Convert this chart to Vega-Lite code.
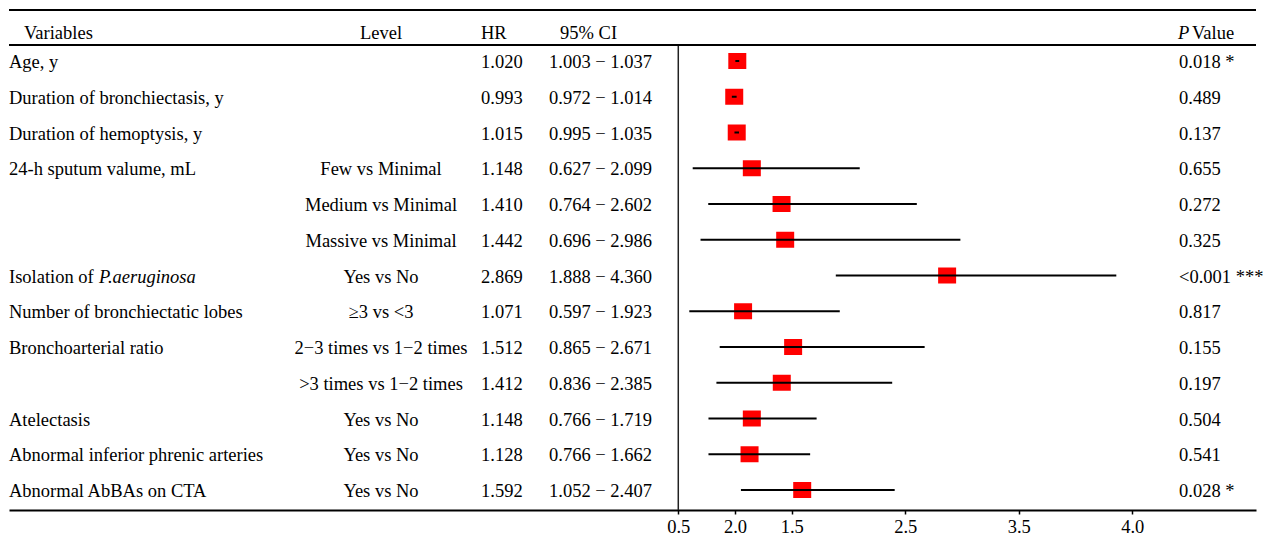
{
  "$schema": "https://vega.github.io/schema/vega-lite/v6.json",
  "width": 1247,
  "height": 510,
  "padding": {"left": 8, "right": 8, "top": 0, "bottom": 0},
  "autosize": {"type": "pad"},
  "background": "white",
  "config": {
    "view": {"stroke": null},
    "text": {"font": "Liberation Serif", "fontSize": 18.5, "color": "black", "dy": 1}
  },
  "datasets": {
    "rows": [
      {"row": 1, "variable": "Age, y", "varIt": "", "level": "", "hr": 1.020, "lo": 1.003, "hi": 1.037, "p": "0.018 *"},
      {"row": 2, "variable": "Duration of bronchiectasis, y", "varIt": "", "level": "", "hr": 0.993, "lo": 0.972, "hi": 1.014, "p": "0.489"},
      {"row": 3, "variable": "Duration of hemoptysis, y", "varIt": "", "level": "", "hr": 1.015, "lo": 0.995, "hi": 1.035, "p": "0.137"},
      {"row": 4, "variable": "24-h sputum valume, mL", "varIt": "", "level": "Few vs Minimal", "hr": 1.148, "lo": 0.627, "hi": 2.099, "p": "0.655"},
      {"row": 5, "variable": "", "varIt": "", "level": "Medium vs Minimal", "hr": 1.410, "lo": 0.764, "hi": 2.602, "p": "0.272"},
      {"row": 6, "variable": "", "varIt": "", "level": "Massive vs Minimal", "hr": 1.442, "lo": 0.696, "hi": 2.986, "p": "0.325"},
      {"row": 7, "variable": "Isolation of", "varIt": "P.aeruginosa", "level": "Yes vs No", "hr": 2.869, "lo": 1.888, "hi": 4.360, "p": "<0.001 ***"},
      {"row": 8, "variable": "Number of bronchiectatic lobes", "varIt": "", "level": "≥3 vs <3", "hr": 1.071, "lo": 0.597, "hi": 1.923, "p": "0.817"},
      {"row": 9, "variable": "Bronchoarterial ratio", "varIt": "", "level": "2−3 times vs 1−2 times", "hr": 1.512, "lo": 0.865, "hi": 2.671, "p": "0.155"},
      {"row": 10, "variable": "", "varIt": "", "level": ">3 times vs 1−2 times", "hr": 1.412, "lo": 0.836, "hi": 2.385, "p": "0.197"},
      {"row": 11, "variable": "Atelectasis", "varIt": "", "level": "Yes vs No", "hr": 1.148, "lo": 0.766, "hi": 1.719, "p": "0.504"},
      {"row": 12, "variable": "Abnormal inferior phrenic arteries", "varIt": "", "level": "Yes vs No", "hr": 1.128, "lo": 0.766, "hi": 1.662, "p": "0.541"},
      {"row": 13, "variable": "Abnormal AbBAs on CTA", "varIt": "", "level": "Yes vs No", "hr": 1.592, "lo": 1.052, "hi": 2.407, "p": "0.028 *"}
    ],
    "heads": [
      {"c": 1, "t": "Variables"},
      {"c": 4, "t": "HR"},
      {"c": 6, "t": "95% CI"},
      {"c": 9, "t": "Value"}
    ]
  },
  "layer": [
    {
      "layer": [
        {
          "data": {"name": "rows"},
          "mark": {"type": "text", "align": "left"},
          "encoding": {
            "x": {"datum": 0, "type": "quantitative", "axis": null,
                  "scale": {"domain": [0, 1, 2, 3, 4, 5, 6, 7, 8, 9], "range": [0, 15, 90, 372, 472, 540, 551, 1169, 1170, 1183], "nice": false, "zero": false}},
            "y": {"field": "row", "type": "quantitative", "axis": null, "scale": {"domain": [-0.7063, 13.5594], "reverse": true, "nice": false, "zero": false}},
            "text": {"field": "variable"}
          }
        },
        {
          "data": {"name": "rows"},
          "mark": {"type": "text", "align": "left", "fontStyle": "italic"},
          "encoding": {
            "x": {"datum": 2, "type": "quantitative", "axis": null,
                  "scale": {"domain": [0, 1, 2, 3, 4, 5, 6, 7, 8, 9], "range": [0, 15, 90, 372, 472, 540, 551, 1169, 1170, 1183], "nice": false, "zero": false}},
            "y": {"field": "row", "type": "quantitative", "axis": null, "scale": {"domain": [-0.7063, 13.5594], "reverse": true, "nice": false, "zero": false}},
            "text": {"field": "varIt"}
          }
        },
        {
          "data": {"name": "rows"},
          "mark": {"type": "text", "align": "center"},
          "encoding": {
            "x": {"datum": 3, "type": "quantitative", "axis": null,
                  "scale": {"domain": [0, 1, 2, 3, 4, 5, 6, 7, 8, 9], "range": [0, 15, 90, 372, 472, 540, 551, 1169, 1170, 1183], "nice": false, "zero": false}},
            "y": {"field": "row", "type": "quantitative", "axis": null, "scale": {"domain": [-0.7063, 13.5594], "reverse": true, "nice": false, "zero": false}},
            "text": {"field": "level"}
          }
        },
        {
          "data": {"name": "rows"},
          "mark": {"type": "text", "align": "left"},
          "encoding": {
            "x": {"datum": 4, "type": "quantitative", "axis": null,
                  "scale": {"domain": [0, 1, 2, 3, 4, 5, 6, 7, 8, 9], "range": [0, 15, 90, 372, 472, 540, 551, 1169, 1170, 1183], "nice": false, "zero": false}},
            "y": {"field": "row", "type": "quantitative", "axis": null, "scale": {"domain": [-0.7063, 13.5594], "reverse": true, "nice": false, "zero": false}},
            "text": {"field": "hr", "type": "quantitative", "format": ".3f"}
          }
        },
        {
          "data": {"name": "rows"},
          "transform": [{"calculate": "format(datum.lo, '.3f') + ' − ' + format(datum.hi, '.3f')", "as": "ci"}],
          "mark": {"type": "text", "align": "left"},
          "encoding": {
            "x": {"datum": 5, "type": "quantitative", "axis": null,
                  "scale": {"domain": [0, 1, 2, 3, 4, 5, 6, 7, 8, 9], "range": [0, 15, 90, 372, 472, 540, 551, 1169, 1170, 1183], "nice": false, "zero": false}},
            "y": {"field": "row", "type": "quantitative", "axis": null, "scale": {"domain": [-0.7063, 13.5594], "reverse": true, "nice": false, "zero": false}},
            "text": {"field": "ci"}
          }
        },
        {
          "data": {"name": "rows"},
          "mark": {"type": "text", "align": "left"},
          "encoding": {
            "x": {"datum": 8, "type": "quantitative", "axis": null,
                  "scale": {"domain": [0, 1, 2, 3, 4, 5, 6, 7, 8, 9], "range": [0, 15, 90, 372, 472, 540, 551, 1169, 1170, 1183], "nice": false, "zero": false}},
            "y": {"field": "row", "type": "quantitative", "axis": null, "scale": {"domain": [-0.7063, 13.5594], "reverse": true, "nice": false, "zero": false}},
            "text": {"field": "p"}
          }
        },
        {
          "data": {"name": "heads"},
          "mark": {"type": "text", "align": "left"},
          "encoding": {
            "x": {"field": "c", "type": "quantitative", "axis": null,
                  "scale": {"domain": [0, 1, 2, 3, 4, 5, 6, 7, 8, 9], "range": [0, 15, 90, 372, 472, 540, 551, 1169, 1170, 1183], "nice": false, "zero": false}},
            "y": {"datum": 0.189, "type": "quantitative", "axis": null, "scale": {"domain": [-0.7063, 13.5594], "reverse": true, "nice": false, "zero": false}},
            "text": {"field": "t"}
          }
        },
        {
          "data": {"values": [{"t": "Level"}]},
          "mark": {"type": "text", "align": "center"},
          "encoding": {
            "x": {"datum": 3, "type": "quantitative", "axis": null,
                  "scale": {"domain": [0, 1, 2, 3, 4, 5, 6, 7, 8, 9], "range": [0, 15, 90, 372, 472, 540, 551, 1169, 1170, 1183], "nice": false, "zero": false}},
            "y": {"datum": 0.189, "type": "quantitative", "axis": null, "scale": {"domain": [-0.7063, 13.5594], "reverse": true, "nice": false, "zero": false}},
            "text": {"field": "t"}
          }
        },
        {
          "data": {"values": [{"t": "P"}]},
          "mark": {"type": "text", "align": "left", "fontStyle": "italic"},
          "encoding": {
            "x": {"datum": 7, "type": "quantitative", "axis": null,
                  "scale": {"domain": [0, 1, 2, 3, 4, 5, 6, 7, 8, 9], "range": [0, 15, 90, 372, 472, 540, 551, 1169, 1170, 1183], "nice": false, "zero": false}},
            "y": {"datum": 0.189, "type": "quantitative", "axis": null, "scale": {"domain": [-0.7063, 13.5594], "reverse": true, "nice": false, "zero": false}},
            "text": {"field": "t"}
          }
        }
      ]
    },
    {
      "layer": [
        {
          "data": {"name": "rows"},
          "mark": {"type": "point", "shape": "M-1.125,-1H1.125V1H-1.125Z", "filled": true, "color": "#ff0000", "opacity": 1, "size": 256},
          "encoding": {
            "x": {"field": "hr", "type": "quantitative",
                  "scale": {"domain": [-5.398, 5.591], "nice": false, "zero": false},
                  "axis": {"values": [0.5, 1, 1.5, 2.5, 3.5, 4.5],
                           "labelExpr": "datum.value == 1 ? '2.0' : datum.value == 4.5 ? '4.0' : format(datum.value, '.1f')",
                           "title": null, "grid": false,
                           "domainColor": "black", "domainWidth": 2,
                           "tickColor": "black", "tickSize": 4, "tickWidth": 1.5,
                           "labelFont": "Liberation Serif", "labelFontSize": 18.5, "labelColor": "black",
                           "labelPadding": 3, "labelFlush": false, "labelOverlap": false}},
            "y": {"field": "row", "type": "quantitative", "axis": null, "scale": {"domain": [-0.7063, 13.5594], "reverse": true, "nice": false, "zero": false}}
          }
        },
        {
          "data": {"name": "rows"},
          "mark": {"type": "rule", "color": "black", "strokeWidth": 2},
          "encoding": {
            "x": {"field": "lo", "type": "quantitative", "scale": {"domain": [-5.398, 5.591], "nice": false, "zero": false}},
            "x2": {"field": "hi"},
            "y": {"field": "row", "type": "quantitative", "axis": null, "scale": {"domain": [-0.7063, 13.5594], "reverse": true, "nice": false, "zero": false}}
          }
        },
        {
          "data": {"values": [{}]},
          "mark": {"type": "rule", "color": "#222", "strokeWidth": 1.5},
          "encoding": {
            "x": {"datum": 0.5, "type": "quantitative", "scale": {"domain": [-5.398, 5.591], "nice": false, "zero": false}},
            "y": {"datum": 0.5524, "type": "quantitative", "axis": null, "scale": {"domain": [-0.7063, 13.5594], "reverse": true, "nice": false, "zero": false}},
            "y2": {"datum": 13.5594}
          }
        },
        {
          "data": {"values": [{"y": -0.4266}, {"y": 0.5524}]},
          "mark": {"type": "rule", "color": "black", "strokeWidth": 2},
          "encoding": {
            "y": {"field": "y", "type": "quantitative", "axis": null, "scale": {"domain": [-0.7063, 13.5594], "reverse": true, "nice": false, "zero": false}}
          }
        }
      ]
    }
  ],
  "resolve": {"scale": {"x": "independent"}, "axis": {"x": "independent"}}
}
